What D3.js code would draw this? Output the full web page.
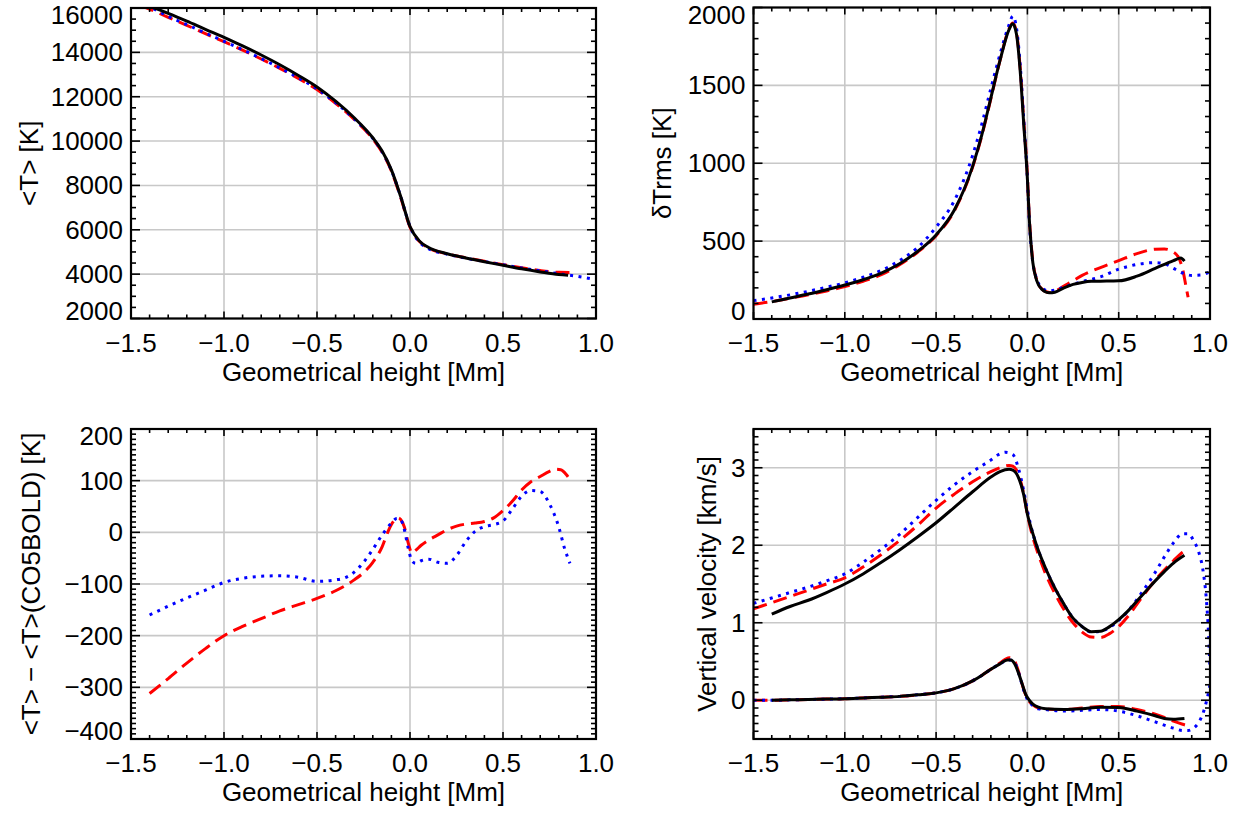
<!DOCTYPE html>
<html><head><meta charset="utf-8">
<script src="https://cdn.jsdelivr.net/npm/d3@7"></script>
<style>
body{margin:0;background:#fff}
svg{display:block}
text{font-family:"Liberation Sans",Arial,Helvetica,sans-serif;fill:#000}
</style>
</head><body>
<svg id="chart" width="1243" height="814"></svg>
<script>
// ---------- shared axis ----------
const xTicks = [-1.5, -1.0, -0.5, 0.0, 0.5, 1.0];
const xTickLabels = ["\u22121.5", "\u22121.0", "\u22120.5", "0.0", "0.5", "1.0"];
const xTitle = "Geometrical height [Mm]";

// ---------- panel 1: <T> ----------
const tTicks = [2000, 4000, 6000, 8000, 10000, 12000, 14000, 16000];
const tTickLabels = ["2000", "4000", "6000", "8000", "10000", "12000", "14000", "16000"];
const p1BlackH = [-1.40,-1.30,-1.20,-1.10,-1.00,-0.90,-0.80,-0.70,-0.60,-0.50,-0.40,-0.30,-0.20,-0.15,-0.10,-0.05,0.00,0.05,0.10,0.20,0.30,0.40,0.50,0.60,0.70,0.80,0.85];
const p1BlackT = [16080,15760,15410,15040,14680,14290,13880,13440,12960,12440,11800,11050,10150,9550,8700,7500,6150,5500,5200,4920,4730,4560,4400,4240,4100,3980,3950];
const p1RedH = [-1.45,-1.40,-1.30,-1.20,-1.10,-1.00,-0.90,-0.80,-0.70,-0.60,-0.50,-0.40,-0.30,-0.20,-0.15,-0.10,-0.05,0.00,0.05,0.10,0.20,0.30,0.40,0.50,0.60,0.70,0.80,0.88];
const p1RedT = [16120,15950,15580,15220,14840,14480,14100,13700,13280,12820,12320,11700,10980,10100,9500,8650,7450,6120,5480,5180,4910,4740,4580,4430,4290,4160,4080,4070];
const p1BlueH = [-1.42,-1.40,-1.30,-1.20,-1.10,-1.00,-0.90,-0.80,-0.70,-0.60,-0.50,-0.40,-0.30,-0.20,-0.15,-0.10,-0.05,0.00,0.05,0.10,0.20,0.30,0.40,0.50,0.60,0.70,0.80,0.90,1.00];
const p1BlueT = [16120,16050,15620,15250,14870,14500,14120,13720,13300,12850,12350,11730,11000,10120,9520,8680,7500,6150,5450,5150,4900,4720,4570,4420,4280,4150,4020,3900,3750];

// ---------- panel 2: dTrms ----------
const dtTicks = [0, 500, 1000, 1500, 2000];
const dtTickLabels = ["0", "500", "1000", "1500", "2000"];
const p2BlackH = [-1.40,-1.30,-1.20,-1.10,-1.00,-0.90,-0.80,-0.70,-0.60,-0.50,-0.40,-0.30,-0.25,-0.20,-0.15,-0.10,-0.08,-0.06,-0.04,-0.02,0.00,0.01,0.02,0.03,0.05,0.08,0.12,0.15,0.20,0.25,0.30,0.35,0.40,0.50,0.60,0.70,0.80,0.84,0.86];
const p2BlackV = [110,135,160,188,218,252,295,355,435,540,700,980,1180,1420,1660,1860,1895,1830,1600,1250,900,650,480,360,250,190,168,172,200,222,235,242,243,245,275,325,375,392,372];
const p2RedH = [-1.50,-1.40,-1.30,-1.20,-1.10,-1.00,-0.90,-0.80,-0.70,-0.60,-0.50,-0.40,-0.30,-0.25,-0.20,-0.15,-0.10,-0.08,-0.06,-0.04,-0.02,0.00,0.01,0.02,0.03,0.05,0.08,0.12,0.15,0.20,0.25,0.30,0.40,0.50,0.60,0.70,0.75,0.80,0.83,0.85,0.87,0.88];
const p2RedV = [95,112,133,155,180,208,242,285,348,430,535,695,975,1175,1415,1660,1865,1900,1840,1620,1270,920,660,490,370,255,192,170,178,212,245,280,330,375,420,448,450,430,390,320,200,140];
const p2BlueH = [-1.50,-1.40,-1.30,-1.20,-1.10,-1.00,-0.90,-0.80,-0.70,-0.60,-0.50,-0.40,-0.30,-0.25,-0.20,-0.15,-0.10,-0.08,-0.06,-0.04,-0.02,0.00,0.01,0.02,0.03,0.05,0.08,0.12,0.15,0.20,0.30,0.40,0.50,0.60,0.70,0.75,0.80,0.85,0.90,0.95,1.00];
const p2BlueV = [118,135,155,178,204,232,268,312,375,460,590,760,1050,1250,1480,1700,1890,1945,1870,1640,1280,900,640,470,360,260,200,180,185,205,240,270,320,350,362,355,325,295,280,282,305];

// ---------- panel 3: <T> - <T>(CO5BOLD) ----------
const diffTicks = [-400, -300, -200, -100, 0, 100, 200];
const diffTickLabels = ["\u2212400", "\u2212300", "\u2212200", "\u2212100", "0", "100", "200"];
const p3RedH = [-1.40,-1.30,-1.20,-1.10,-1.00,-0.90,-0.80,-0.70,-0.60,-0.50,-0.40,-0.30,-0.25,-0.20,-0.15,-0.12,-0.10,-0.08,-0.065,-0.05,-0.03,-0.01,0.01,0.03,0.06,0.10,0.15,0.20,0.25,0.30,0.35,0.40,0.45,0.50,0.55,0.60,0.65,0.70,0.75,0.78,0.81,0.84,0.86];
const p3RedV = [-312,-283,-253,-225,-200,-182,-167,-152,-140,-128,-113,-92,-78,-58,-28,0,15,25,28,25,10,-20,-40,-35,-25,-15,-5,5,12,16,18,21,28,42,60,82,98,108,118,122,121,112,102];
const p3BlueH = [-1.40,-1.30,-1.20,-1.10,-1.00,-0.90,-0.80,-0.70,-0.60,-0.50,-0.40,-0.35,-0.30,-0.25,-0.20,-0.15,-0.10,-0.07,-0.05,-0.03,-0.01,0.01,0.03,0.06,0.10,0.15,0.20,0.25,0.30,0.35,0.40,0.45,0.50,0.55,0.60,0.65,0.70,0.75,0.80,0.83,0.86];
const p3BlueV = [-160,-143,-127,-112,-97,-89,-85,-84,-87,-95,-92,-88,-77,-58,-33,-5,18,27,24,5,-30,-55,-60,-55,-52,-58,-60,-45,-18,2,11,15,22,45,70,81,79,55,10,-30,-60];

// ---------- panel 4: vertical velocity ----------
const vTicks = [0, 1, 2, 3];
const vTickLabels = ["0", "1", "2", "3"];
const p4BlackUpH = [-1.40,-1.30,-1.20,-1.10,-1.00,-0.90,-0.80,-0.70,-0.60,-0.50,-0.40,-0.30,-0.20,-0.15,-0.10,-0.08,-0.05,-0.02,0.00,0.03,0.05,0.10,0.15,0.20,0.25,0.30,0.35,0.40,0.45,0.50,0.55,0.60,0.65,0.70,0.75,0.80,0.86];
const p4BlackUpV = [1.11,1.21,1.29,1.39,1.50,1.63,1.78,1.94,2.11,2.29,2.49,2.69,2.88,2.95,2.98,2.97,2.88,2.65,2.40,2.15,2.00,1.70,1.45,1.24,1.06,0.95,0.885,0.89,0.95,1.04,1.15,1.28,1.41,1.54,1.66,1.77,1.87];
const p4RedUpH = [-1.50,-1.40,-1.30,-1.20,-1.10,-1.00,-0.90,-0.80,-0.70,-0.60,-0.50,-0.40,-0.30,-0.20,-0.15,-0.10,-0.08,-0.05,-0.02,0.00,0.03,0.05,0.10,0.15,0.20,0.25,0.30,0.35,0.40,0.45,0.50,0.55,0.60,0.65,0.70,0.75,0.80,0.85,0.88];
const p4RedUpV = [1.18,1.26,1.34,1.42,1.50,1.58,1.72,1.88,2.06,2.26,2.48,2.66,2.82,2.95,3.00,3.03,3.02,2.92,2.66,2.40,2.10,1.95,1.63,1.38,1.17,1.00,0.88,0.815,0.81,0.86,0.95,1.08,1.24,1.40,1.55,1.68,1.80,1.91,1.95];
const p4BlueUpH = [-1.50,-1.40,-1.30,-1.20,-1.10,-1.00,-0.90,-0.80,-0.70,-0.60,-0.50,-0.40,-0.30,-0.20,-0.15,-0.12,-0.08,-0.05,-0.02,0.00,0.03,0.05,0.10,0.15,0.20,0.25,0.30,0.35,0.40,0.45,0.50,0.55,0.60,0.65,0.70,0.75,0.80,0.85,0.88,0.91,0.94,0.96,0.98,0.99,1.00];
const p4BlueUpV = [1.25,1.32,1.39,1.46,1.54,1.63,1.78,1.95,2.14,2.36,2.58,2.78,2.95,3.10,3.18,3.20,3.17,3.00,2.70,2.45,2.15,2.00,1.70,1.45,1.24,1.06,0.95,0.88,0.89,0.94,1.03,1.15,1.30,1.47,1.65,1.85,2.03,2.15,2.15,2.06,1.90,1.70,1.30,0.95,0.40];
const p4BlackLoH = [-1.40,-1.30,-1.20,-1.10,-1.00,-0.90,-0.80,-0.70,-0.60,-0.50,-0.40,-0.30,-0.25,-0.20,-0.15,-0.11,-0.09,-0.07,-0.05,-0.03,-0.01,0.01,0.03,0.06,0.10,0.20,0.30,0.40,0.50,0.60,0.70,0.75,0.80,0.86];
const p4BlackLoV = [0.00,0.005,0.01,0.015,0.02,0.03,0.04,0.05,0.07,0.095,0.15,0.25,0.32,0.40,0.47,0.52,0.52,0.47,0.36,0.22,0.08,0.00,-0.05,-0.09,-0.11,-0.12,-0.11,-0.09,-0.095,-0.14,-0.20,-0.235,-0.245,-0.235];
const p4RedLoH = [-1.50,-1.40,-1.30,-1.20,-1.10,-1.00,-0.90,-0.80,-0.70,-0.60,-0.50,-0.40,-0.30,-0.25,-0.20,-0.15,-0.10,-0.08,-0.06,-0.04,-0.02,0.00,0.03,0.06,0.10,0.20,0.30,0.40,0.50,0.60,0.70,0.75,0.80,0.85,0.88];
const p4RedLoV = [0.00,0.00,0.005,0.01,0.015,0.02,0.03,0.04,0.05,0.07,0.095,0.15,0.25,0.32,0.40,0.48,0.55,0.54,0.45,0.30,0.14,0.02,-0.06,-0.10,-0.115,-0.12,-0.10,-0.08,-0.08,-0.12,-0.18,-0.22,-0.27,-0.31,-0.33];
const p4BlueLoH = [-1.50,-1.40,-1.30,-1.20,-1.10,-1.00,-0.90,-0.80,-0.70,-0.60,-0.50,-0.40,-0.30,-0.25,-0.20,-0.15,-0.10,-0.08,-0.06,-0.04,-0.02,0.00,0.03,0.06,0.10,0.20,0.30,0.40,0.50,0.60,0.70,0.80,0.85,0.88,0.91,0.94,0.96,0.98,0.99,1.00];
const p4BlueLoV = [0.00,0.00,0.005,0.01,0.015,0.02,0.03,0.04,0.05,0.07,0.095,0.15,0.25,0.32,0.40,0.47,0.52,0.51,0.44,0.29,0.13,0.01,-0.07,-0.11,-0.12,-0.14,-0.13,-0.12,-0.14,-0.20,-0.28,-0.36,-0.39,-0.39,-0.36,-0.28,-0.18,-0.02,0.08,0.20];

// ---------- styles ----------
const styles = {
  black: {stroke: "#000000", width: 3, dash: null},
  red:   {stroke: "#ff0000", width: 3, dash: "14,7"},
  blue:  {stroke: "#0000ff", width: 3, dash: "3,5.5"}
};

function zipSeries(h, v) { return h.map((d, i) => [d, v[i]]); }

const panels = [
  {box:[131,596,8,318.5], ydom:[2000,16000], yticks:tTicks, ylabels:tTickLabels, yminor:500,
   ytitle:"<T> [K]", ytitleX:38,
   series:[["red",zipSeries(p1RedH,p1RedT)],["blue",zipSeries(p1BlueH,p1BlueT)],["black",zipSeries(p1BlackH,p1BlackT)]]},
  {box:[753.5,1210,7.5,319], ydom:[0,2000], yticks:dtTicks, ylabels:dtTickLabels, yminor:100,
   ytitle:"\u03b4Trms [K]", ytitleX:671,
   series:[["red",zipSeries(p2RedH,p2RedV)],["blue",zipSeries(p2BlueH,p2BlueV)],["black",zipSeries(p2BlackH,p2BlackV)]]},
  {box:[131,596,429,739], ydom:[-400,200], yticks:diffTicks, ylabels:diffTickLabels, yminor:10,
   ytitle:"<T> \u2212 <T>(CO5BOLD) [K]", ytitleX:40,
   series:[["red",zipSeries(p3RedH,p3RedV)],["blue",zipSeries(p3BlueH,p3BlueV)]]},
  {box:[753.5,1210,429,739], ydom:[-0.5,3.5], yticks:vTicks, ylabels:vTickLabels, yminor:0.1,
   ytitle:"Vertical velocity [km/s]", ytitleX:716,
   series:[["red",zipSeries(p4RedUpH,p4RedUpV)],["blue",zipSeries(p4BlueUpH,p4BlueUpV)],["black",zipSeries(p4BlackUpH,p4BlackUpV)],
           ["red",zipSeries(p4RedLoH,p4RedLoV)],["blue",zipSeries(p4BlueLoH,p4BlueLoV)],["black",zipSeries(p4BlackLoH,p4BlackLoV)]]}
];

const svg = d3.select("#chart");
const FS = 26;

panels.forEach((p, pi) => {
  const [x0, x1, y0, y1] = p.box;
  const x = d3.scaleLinear().domain([-1.5, 1.0]).range([x0, x1]);
  const y = d3.scaleLinear().domain(p.ydom).range([y1, y0]);
  const g = svg.append("g");

  const cid = "clip" + pi;
  svg.append("clipPath").attr("id", cid).append("rect")
    .attr("x", x0).attr("y", y0).attr("width", x1 - x0).attr("height", y1 - y0);

  // grid
  g.append("g").selectAll("line").data(xTicks).join("line")
    .attr("x1", d => x(d)).attr("x2", d => x(d)).attr("y1", y0).attr("y2", y1)
    .attr("stroke", "#c8c8c8").attr("stroke-width", 1.6);
  g.append("g").selectAll("line").data(p.yticks).join("line")
    .attr("x1", x0).attr("x2", x1).attr("y1", d => y(d)).attr("y2", d => y(d))
    .attr("stroke", "#c8c8c8").attr("stroke-width", 1.6);

  // curves
  const line = d3.line().x(d => x(d[0])).y(d => y(d[1])).curve(d3.curveMonotoneX);
  const cg = g.append("g").attr("clip-path", `url(#${cid})`);
  p.series.forEach(([st, data]) => {
    const s = styles[st];
    cg.append("path").datum(data).attr("d", line)
      .attr("fill", "none").attr("stroke", s.stroke).attr("stroke-width", s.width)
      .attr("stroke-dasharray", s.dash).attr("stroke-linejoin", "round");
  });

  // ticks (major + minor, inward, on all four sides)
  const eps = 1e-9;
  const xMinor = d3.range(-1.5, 1.0 + eps, 0.1);
  const yMinor = d3.range(p.ydom[0], p.ydom[1] + p.yminor * 0.01, p.yminor);
  const tk = g.append("g").attr("stroke", "#000").attr("stroke-width", 1.6);
  xMinor.forEach(v => {
    const major = xTicks.some(t => Math.abs(t - v) < 1e-6);
    const L = major ? 7 : 4;
    tk.append("line").attr("x1", x(v)).attr("x2", x(v)).attr("y1", y1).attr("y2", y1 - L);
    tk.append("line").attr("x1", x(v)).attr("x2", x(v)).attr("y1", y0).attr("y2", y0 + L);
  });
  yMinor.forEach(v => {
    const major = p.yticks.some(t => Math.abs(t - v) < p.yminor * 0.01);
    const L = major ? 9 : 5;
    tk.append("line").attr("x1", x0).attr("x2", x0 + L).attr("y1", y(v)).attr("y2", y(v));
    tk.append("line").attr("x1", x1).attr("x2", x1 - L).attr("y1", y(v)).attr("y2", y(v));
  });

  // frame
  g.append("rect").attr("x", x0).attr("y", y0).attr("width", x1 - x0).attr("height", y1 - y0)
    .attr("fill", "none").attr("stroke", "#000").attr("stroke-width", 2.2);

  // x tick labels
  g.append("g").selectAll("text").data(xTicks).join("text")
    .attr("x", d => x(d)).attr("y", y1 + 33).attr("text-anchor", "middle")
    .style("font-size", FS + "px").text((d, i) => xTickLabels[i]);
  // x title
  g.append("text").attr("x", (x0 + x1) / 2).attr("y", y1 + 62).attr("text-anchor", "middle")
    .style("font-size", FS + "px").text(xTitle);

  // y tick labels (end labels kept inside frame span)
  g.append("g").selectAll("text").data(p.yticks).join("text")
    .attr("x", x0 - 8)
    .attr("y", d => Math.min(Math.max(y(d), y0 + 7), y1 - 8) + 9)
    .attr("text-anchor", "end").style("font-size", FS + "px")
    .text((d, i) => p.ylabels[i]);

  // y title
  g.append("text")
    .attr("transform", `translate(${p.ytitleX},${(y0 + y1) / 2}) rotate(-90)`)
    .attr("text-anchor", "middle").style("font-size", FS + "px").text(p.ytitle);
});
</script>
</body></html>
